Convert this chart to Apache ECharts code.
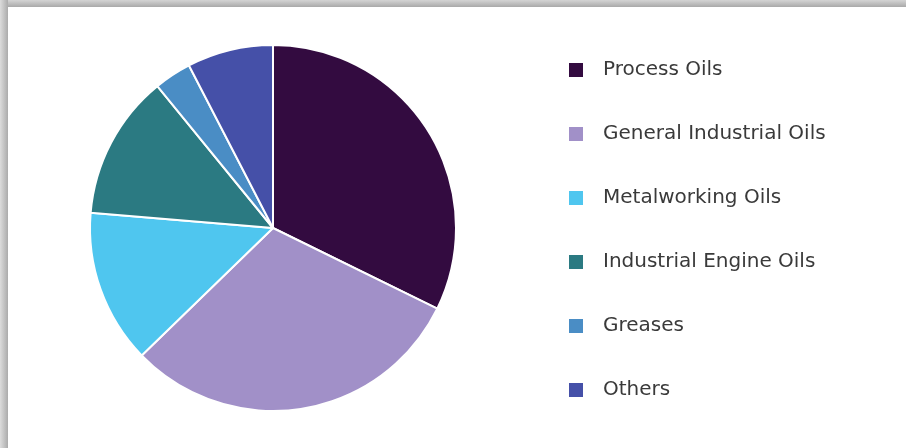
<!DOCTYPE html>
<html>
<head>
<meta charset="utf-8">
<script src="https://cdn.jsdelivr.net/npm/echarts@6/dist/echarts.min.js"></script>
<style>
html,body{margin:0;padding:0;background:#fff;}
#c{width:906px;height:448px;}
</style>
</head>
<body>
<div id="c"></div>
<script>
var categories = ['Process Oils', 'General Industrial Oils', 'Metalworking Oils', 'Industrial Engine Oils', 'Greases', 'Others'];
var shares = [32.3, 30.5, 13.6, 12.8, 3.3, 7.6];
var colors = ['#330b40', '#a190c8', '#4fc6ef', '#2b7a82', '#4a8dc5', '#4550a8'];

var chart = echarts.init(document.getElementById('c'), null, {renderer: 'canvas'});
chart.setOption({
  backgroundColor: '#ffffff',
  animation: false,
  color: colors,
  graphic: [
    {type: 'rect', left: 0, top: 0, z: 0, shape: {width: 906, height: 7},
     style: {fill: new echarts.graphic.LinearGradient(0, 0, 0, 1, [{offset: 0, color: '#d4d4d4'}, {offset: 1, color: '#a9a9a9'}])}},
    {type: 'rect', left: 0, top: 0, z: 0, shape: {width: 8, height: 448},
     style: {fill: new echarts.graphic.LinearGradient(0, 0, 1, 0, [{offset: 0, color: '#dcdcdc'}, {offset: 1, color: '#ababab'}])}}
  ],
  legend: {
    orient: 'vertical',
    left: 562,
    top: 53,
    icon: 'rect',
    itemWidth: 16,
    itemHeight: 16,
    itemGap: 40,
    textStyle: {fontFamily: 'DejaVu Sans, sans-serif', fontSize: 20, color: '#3a3a3a', lineHeight: 24, padding: [0, 0, 0, 14]},
    data: categories
  },
  series: [{
    type: 'pie',
    center: [273, 228],
    radius: [0, 183],
    startAngle: 90,
    clockwise: true,
    label: {show: false},
    labelLine: {show: false},
    itemStyle: {borderColor: '#ffffff', borderWidth: 2},
    data: categories.map(function (n, i) { return {name: n, value: shares[i]}; })
  }]
});
</script>
</body>
</html>
